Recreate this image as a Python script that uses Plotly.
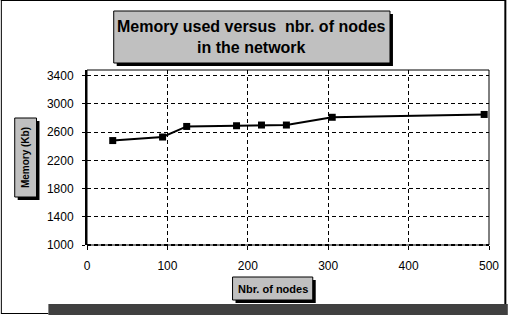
import plotly.graph_objects as go

# ---- data ----
nodes = [32, 94, 124, 186, 217, 248, 305, 494]
memory_kb = [2480, 2530, 2680, 2690, 2700, 2700, 2810, 2850]
x_ticks = [0, 100, 200, 300, 400, 500]
y_ticks = [1000, 1400, 1800, 2200, 2600, 3000, 3400]
title_lines = ["Memory used versus  nbr. of nodes", "in the network"]
x_title = "Nbr. of nodes"
y_title = "Memory (Kb)"

W, H = 511, 315
L, R, T, B = 87, 18, 70, 70
PW, PH = W - L - R, H - T - B


def px(x):
    return (x - L) / PW


def py(y):
    return (H - B - y) / PH


FONT = "Liberation Sans, Arial, sans-serif"

fig = go.Figure()
fig.add_trace(go.Scatter(
    x=nodes, y=memory_kb, mode="lines+markers",
    line=dict(color="black", width=2),
    marker=dict(symbol="square", size=7, color="black"),
    showlegend=False, cliponaxis=False,
))

shapes = []
# plot area border
shapes.append(dict(type="rect", xref="paper", yref="paper", x0=0, x1=1, y0=0, y1=1,
                   line=dict(color="black", width=1), layer="above"))
# dashed-looking x axis line
shapes.append(dict(type="line", xref="paper", yref="paper", x0=0, x1=1, y0=0, y1=0,
                   line=dict(color="black", width=2, dash="4px,3px"), layer="above"))


def box(x0, y0, x1, y1, sh=3):
    shapes.append(dict(type="rect", xref="paper", yref="paper",
                       x0=px(x0 + sh), x1=px(x1 + sh), y0=py(y1 + sh), y1=py(y0 + sh),
                       line=dict(width=0), fillcolor="black", layer="above"))
    shapes.append(dict(type="rect", xref="paper", yref="paper",
                       x0=px(x0), x1=px(x1), y0=py(y1), y1=py(y0),
                       line=dict(color="black", width=1), fillcolor="#c0c0c0", layer="above"))


box(114, 11, 393, 63)
box(14, 118, 36, 197)
box(234, 277, 315, 300)

# outer frame
shapes.append(dict(type="line", xref="paper", yref="paper", x0=px(0.5), x1=px(0.5), y0=py(0), y1=py(313),
                   line=dict(color="black", width=1)))
shapes.append(dict(type="line", xref="paper", yref="paper", x0=px(0), x1=px(510), y0=py(0.5), y1=py(0.5),
                   line=dict(color="black", width=1)))
shapes.append(dict(type="line", xref="paper", yref="paper", x0=px(509.5), x1=px(509.5), y0=py(0), y1=py(304),
                   line=dict(color="black", width=2)))
shapes.append(dict(type="line", xref="paper", yref="paper", x0=px(0), x1=px(48), y0=py(313.5), y1=py(313.5),
                   line=dict(color="black", width=1)))
# dark band at bottom
shapes.append(dict(type="rect", xref="paper", yref="paper", x0=px(48), x1=px(512), y0=py(316), y1=py(304),
                   line=dict(width=0), fillcolor="#404040"))

annotations = [
    dict(xref="paper", yref="paper", x=px(253.5), y=py(37),
         text="<br>".join("<b>%s</b>" % s for s in title_lines),
         showarrow=False, font=dict(family=FONT, size=16, color="black"),
         xanchor="center", yanchor="middle"),
    dict(xref="paper", yref="paper", x=px(25), y=py(157.5), text="<b>%s</b>" % y_title, textangle=-90,
         showarrow=False, font=dict(family=FONT, size=10, color="black"),
         xanchor="center", yanchor="middle"),
    dict(xref="paper", yref="paper", x=px(274.5), y=py(288.5), text="<b>%s</b>" % x_title,
         showarrow=False, font=dict(family=FONT, size=11, color="black"),
         xanchor="center", yanchor="middle"),
]

fig.update_layout(
    width=W, height=H, margin=dict(l=L, r=R, t=T, b=B),
    paper_bgcolor="white", plot_bgcolor="white",
    font=dict(family=FONT, size=12, color="black"),
    shapes=shapes, annotations=annotations,
    xaxis=dict(range=[0, 500], tickvals=x_ticks, ticks="outside", ticklen=4, tickcolor="black",
               showgrid=True, gridcolor="black", gridwidth=1, griddash="4px,3px",
               zeroline=False, showline=False, ticklabelstandoff=6,
               tickfont=dict(family=FONT, size=12)),
    yaxis=dict(range=[1000, 3480], tickvals=y_ticks, ticks="outside", ticklen=3, tickcolor="black",
               showgrid=True, gridcolor="black", gridwidth=1, griddash="4px,3px",
               zeroline=False, showline=True, linecolor="black", linewidth=2,
               ticklabelstandoff=6, tickfont=dict(family=FONT, size=12)),
)

fig.write_html("out.html")
